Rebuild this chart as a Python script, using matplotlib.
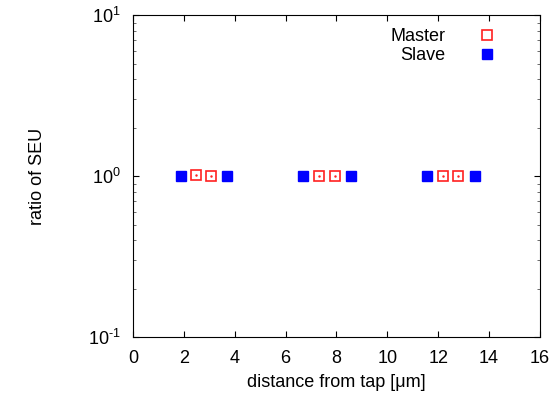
import matplotlib.pyplot as plt
from matplotlib.ticker import LogLocator, NullFormatter, FuncFormatter
import numpy as np

# data
master_x = [2.48, 3.07, 7.32, 7.95, 12.2, 12.8]
master_y = [1.02, 1.0, 1.0, 1.0, 1.0, 1.0]
slave_x = [1.89, 3.70, 6.69, 8.58, 11.57, 13.43]
slave_y = [1.0, 1.0, 1.0, 1.0, 1.0, 1.0]

plt.rcParams['font.family'] = ['Liberation Sans', 'DejaVu Sans']
plt.rcParams['font.size'] = 13
plt.rcParams['mathtext.fontset'] = 'custom'
plt.rcParams['mathtext.rm'] = 'Liberation Sans'

fig = plt.figure(figsize=(5.52, 3.99), dpi=100)
ax = fig.add_axes([0.241, 0.155, 0.737, 0.807])

ax.plot(master_x, master_y, linestyle='none', marker='s', markersize=7.2,
        markerfacecolor='none', markeredgecolor='#ff2020', markeredgewidth=1.2,
        label='Master')
ax.plot(master_x, master_y, linestyle='none', marker='.', markersize=1.5,
        color='#ff2020')
ax.plot(slave_x, slave_y, linestyle='none', marker='s', markersize=7.2,
        color='#0000ff', label='Slave')


def log_label(v, pos):
    e = int(round(np.log10(v)))
    if e < 0:
        return r'$\mathrm{10^{\text{-}%d}}$' % (-e)
    return r'$\mathrm{10^{%d}}$' % e


ax.set_yscale('log')
ax.set_xlim(0, 16)
ax.set_ylim(0.1, 10)
ax.set_xticks(range(0, 17, 2))
ax.yaxis.set_major_formatter(FuncFormatter(log_label))
ax.yaxis.set_minor_locator(LogLocator(base=10, subs=range(2, 10)))
ax.yaxis.set_minor_formatter(NullFormatter())
ax.tick_params(which='both', direction='in', top=True, right=True)
ax.tick_params(which='major', length=4, pad=9)
ax.tick_params(which='minor', length=2, color='#555555')

ax.set_xlabel('distance from tap [\u03bcm]', labelpad=5)
ax.set_ylabel('ratio of SEU', labelpad=30)

leg = ax.legend(loc='upper right', frameon=False, markerfirst=False,
                handlelength=1.0, handletextpad=1.8, borderpad=0,
                borderaxespad=0, labelspacing=0.1,
                bbox_to_anchor=(0.893, 0.96))
for t in leg.get_texts():
    t.set_ha('right')

fig.savefig('out.png', dpi=100)
